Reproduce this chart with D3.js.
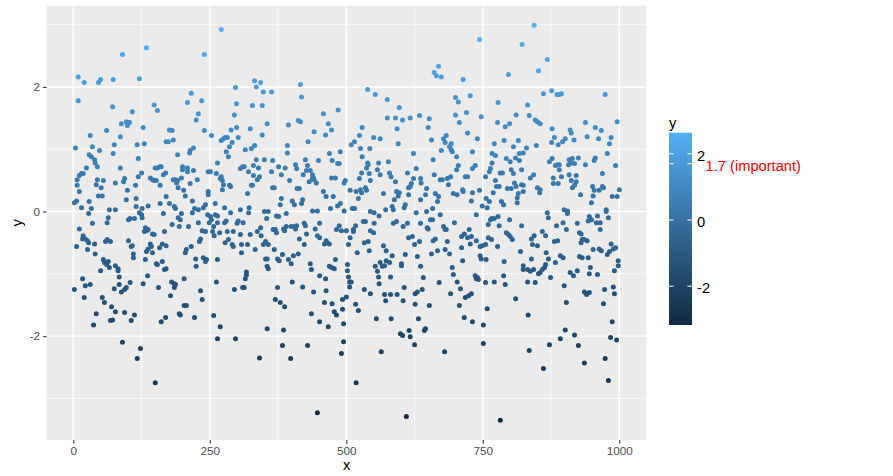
<!DOCTYPE html>
<html lang="en">
<head>
  <meta charset="UTF-8">
  <title>Scatter of y against x</title>
  <script src="https://d3js.org/d3.v7.min.js"></script>
  <style>
    body { margin: 0; background: #fff; }
    svg { display: block; font-family: "Liberation Sans", Arial, sans-serif; }
  </style>
</head>
<body>
  <svg width="893" height="476"></svg>
  <script>
    const strip1 = [[9,2.16],[20,2.07],[46,2.07],[50,2.12],[73,2.12],[9,1.78],[72,1.68],[61,1.30],[31,1.22],[4,1.02],[35,1.04],[48,0.98],[75,1.07],[73,0.93],[29,0.91],[33,0.88],[39,0.83],[40,0.78],[44,0.72],[24,0.70],[15,0.61],[18,0.61],[11,0.58],[7,0.51],[44,0.51],[55,0.50],[42,0.43],[51,0.38],[7,0.42],[11,0.32],[77,0.46],[46,0.25],[53,0.25],[29,0.16],[6,0.17],[2,0.14],[15,0.06],[33,0.05],[28,-0.03],[66,0.03],[77,0.03],[64,-0.10],[62,-0.18],[35,-0.19],[11,-0.28],[18,-0.39],[17,-0.44],[22,-0.44],[26,-0.47],[28,-0.50],[6,-0.56],[39,-0.52],[26,-0.61],[59,-0.48],[62,-0.45],[68,-0.48],[40,-0.68],[55,-0.77],[57,-0.82],[64,-0.80],[61,-0.85],[66,-0.90],[77,-0.87],[50,-0.95],[17,-1.08],[22,-1.19],[31,-1.17],[2,-1.25],[75,-1.24],[20,-1.38],[53,-1.38],[57,-1.46],[70,-1.53],[77,-1.61],[42,-1.64],[37,-1.82],[68,-1.75],[72,-1.74]];
    const strip2 = [[90,2.52],[134,2.63],[121,2.13],[148,1.71],[154,1.62],[108,1.60],[88,1.41],[97,1.44],[101,1.43],[99,1.38],[103,1.43],[128,1.35],[86,1.20],[117,1.07],[130,1.09],[170,1.12],[119,0.85],[86,0.70],[125,0.62],[119,0.56],[94,0.53],[92,0.48],[114,0.42],[99,0.34],[141,0.54],[145,0.51],[148,0.50],[152,0.50],[150,0.70],[154,0.70],[158,0.72],[161,0.72],[165,0.59],[169,0.62],[159,0.42],[97,0.19],[115,0.21],[115,0.08],[126,0.05],[137,0.09],[159,0.13],[170,0.24],[121,-0.02],[125,-0.05],[126,-0.10],[104,-0.11],[101,-0.13],[112,-0.11],[165,-0.03],[132,-0.26],[130,-0.32],[134,-0.31],[137,-0.29],[145,-0.36],[148,-0.37],[167,-0.32],[101,-0.47],[106,-0.56],[108,-0.55],[110,-0.68],[110,-0.74],[141,-0.52],[143,-0.56],[145,-0.66],[137,-0.60],[134,-0.64],[158,-0.58],[163,-0.52],[170,-0.55],[132,-0.77],[152,-0.84],[154,-0.85],[163,-0.80],[167,-0.93],[170,-0.92],[82,-0.92],[82,-0.95],[84,-1.05],[136,-1.03],[84,-1.17],[88,-1.29],[94,-1.25],[97,-1.22],[104,-1.14],[128,-1.16],[156,-1.22],[94,-1.62],[112,-1.66],[106,-1.75],[161,-1.77],[169,-1.70],[90,-2.10],[123,-2.20],[117,-2.36],[150,-2.75]];
    const strip3 = [[240,2.52],[216,1.90],[209,1.75],[235,1.78],[229,1.57],[225,1.47],[176,1.31],[181,1.30],[240,1.30],[253,1.22],[183,1.15],[174,1.12],[220,1.02],[214,0.98],[213,0.94],[191,0.91],[264,0.78],[200,0.72],[200,0.67],[209,0.70],[209,0.64],[220,0.66],[251,0.64],[247,0.64],[262,0.61],[183,0.51],[187,0.51],[189,0.46],[191,0.50],[198,0.54],[227,0.51],[214,0.45],[192,0.38],[202,0.34],[205,0.25],[247,0.32],[247,0.27],[218,0.17],[176,0.13],[185,0.08],[187,0.05],[198,-0.03],[192,-0.10],[196,-0.13],[181,-0.21],[194,-0.24],[211,-0.24],[242,0.11],[238,0.06],[229,0.03],[222,0.05],[218,-0.02],[260,0.13],[246,-0.05],[251,-0.08],[260,-0.05],[264,-0.07],[253,-0.13],[249,-0.18],[257,-0.24],[258,-0.39],[264,-0.18],[229,-0.18],[236,-0.31],[242,-0.32],[233,-0.44],[231,-0.48],[255,-0.32],[216,-0.56],[207,-0.61],[205,-0.66],[224,-0.76],[238,-0.74],[242,-0.80],[244,-0.77],[264,-0.77],[225,-0.88],[180,-1.13],[185,-1.16],[187,-1.17],[185,-1.22],[178,-1.35],[203,-1.08],[233,-1.27],[236,-1.41],[262,-1.13],[203,-1.51],[207,-1.51],[194,-1.64],[196,-1.66],[222,-1.70],[257,-1.67],[264,-2.04]];
    const strip4 = [[271,2.92],[332,2.10],[343,2.07],[335,2.00],[348,1.92],[297,1.99],[299,1.73],[328,1.70],[346,1.70],[295,1.55],[289,1.31],[299,1.35],[324,1.33],[302,1.19],[346,1.23],[355,1.41],[271,1.14],[275,1.17],[278,1.19],[282,1.19],[286,1.04],[291,1.11],[332,1.06],[326,1.01],[315,0.99],[280,0.96],[284,0.88],[335,0.83],[350,0.83],[339,0.70],[330,0.74],[321,0.64],[313,0.72],[310,0.72],[306,0.69],[330,0.58],[341,0.56],[337,0.51],[328,0.42],[326,0.42],[271,0.56],[269,0.53],[273,0.50],[275,0.43],[273,0.35],[286,0.42],[288,0.40],[319,0.29],[277,0.06],[288,-0.02],[306,0.03],[321,-0.02],[322,0.06],[350,0.00],[357,0.00],[354,-0.11],[277,-0.18],[280,-0.15],[302,-0.15],[300,-0.19],[311,-0.18],[268,-0.34],[282,-0.32],[293,-0.32],[306,-0.37],[324,-0.37],[343,-0.26],[337,-0.32],[344,-0.39],[278,-0.50],[284,-0.45],[291,-0.53],[293,-0.56],[308,-0.53],[319,-0.53],[333,-0.61],[308,-0.66],[348,-0.53],[352,-0.48],[357,-0.53],[352,-0.76],[355,-0.76],[355,-0.88],[357,-0.92],[317,-0.97],[317,-1.02],[315,-1.08],[310,-1.22],[313,-1.22],[295,-1.25],[269,-1.85],[297,-2.04],[355,-1.88],[341,-2.35]];
    const strip5 = [[416,2.04],[363,1.92],[418,1.84],[394,1.39],[412,1.46],[416,1.44],[441,1.28],[430,1.12],[392,1.06],[392,0.94],[365,0.82],[363,0.64],[376,0.72],[388,0.70],[381,0.59],[396,0.50],[407,0.75],[409,0.69],[425,0.83],[429,0.74],[427,0.66],[434,0.66],[421,0.59],[438,0.59],[440,0.54],[432,0.48],[438,0.53],[441,0.51],[445,0.46],[449,0.82],[365,0.38],[368,0.38],[410,0.37],[414,0.37],[381,0.21],[379,0.11],[401,0.17],[405,0.11],[418,0.13],[420,0.19],[438,0.01],[447,0.01],[372,-0.07],[376,-0.08],[390,-0.03],[366,-0.29],[370,-0.29],[372,-0.34],[385,-0.28],[387,-0.31],[390,-0.24],[399,-0.24],[405,-0.24],[409,-0.23],[407,-0.28],[423,-0.19],[425,-0.23],[427,-0.36],[443,-0.28],[447,-0.39],[451,-0.42],[451,-0.19],[414,-0.44],[423,-0.53],[368,-0.61],[383,-0.69],[374,-0.76],[377,-0.79],[394,-0.77],[399,-0.84],[403,-0.71],[412,-0.68],[434,-0.84],[436,-0.93],[451,-1.03],[374,-1.22],[401,-1.13],[420,-1.21],[440,-1.29],[370,-1.41],[379,-1.46],[387,-1.53],[436,-1.64],[451,-1.77],[385,-1.90],[383,-2.15],[429,-2.15],[398,-2.36],[447,-3.23]];
    const strip6 = [[539,1.96],[458,1.57],[485,1.63],[467,1.41],[473,1.31],[462,1.23],[529,1.35],[524,1.22],[509,1.07],[515,1.12],[526,1.01],[543,1.01],[469,0.93],[489,0.96],[474,0.82],[484,0.77],[487,0.77],[529,0.88],[539,0.78],[537,0.70],[540,0.75],[528,0.62],[542,0.61],[524,0.53],[498,0.50],[496,0.46],[473,0.54],[480,0.54],[458,0.32],[463,0.24],[476,0.24],[507,0.34],[518,0.32],[526,0.35],[528,0.30],[535,0.38],[537,0.34],[522,0.21],[544,0.50],[471,0.05],[484,0.09],[489,0.13],[496,0.01],[511,0.05],[515,0.05],[544,0.00],[487,-0.23],[482,-0.29],[491,-0.31],[500,-0.31],[513,-0.29],[513,-0.32],[517,-0.23],[531,-0.16],[535,-0.16],[460,-0.52],[463,-0.47],[465,-0.50],[469,-0.52],[507,-0.42],[504,-0.53],[533,-0.50],[540,-0.48],[544,-0.31],[542,-0.63],[520,-0.66],[480,-0.77],[469,-0.88],[473,-0.90],[478,-0.92],[502,-0.85],[502,-0.95],[504,-1.05],[506,-1.13],[509,-1.13],[506,-1.21],[462,-1.08],[463,-1.27],[500,-1.37],[493,-1.41],[517,-1.49],[522,-1.59],[533,-1.25],[544,-1.32],[460,-1.46],[474,-1.48],[478,-1.61],[482,-1.66],[493,-1.57],[467,-1.85],[495,-1.80],[495,-2.09],[491,-2.28],[518,-2.75]];
    const strip7 = [[553,1.88],[575,1.80],[597,1.67],[575,1.50],[590,1.50],[603,1.47],[617,1.50],[634,1.54],[593,1.33],[550,1.19],[562,1.17],[595,1.09],[623,0.93],[559,0.78],[577,0.80],[557,0.67],[562,0.59],[579,0.62],[582,0.56],[590,0.48],[612,0.62],[628,0.69],[623,0.53],[636,0.53],[619,0.45],[617,0.40],[614,0.38],[597,0.30],[592,0.32],[614,0.27],[595,0.25],[588,0.19],[637,0.46],[636,0.19],[568,0.29],[572,0.03],[584,0.08],[586,0.03],[608,0.11],[606,0.06],[628,-0.02],[551,-0.02],[560,-0.07],[551,-0.19],[586,-0.19],[592,-0.16],[612,-0.19],[604,-0.24],[636,-0.19],[550,-0.34],[614,-0.42],[621,-0.40],[625,-0.53],[634,-0.48],[568,-0.55],[573,-0.63],[584,-0.71],[608,-0.69],[630,-0.72],[562,-0.82],[566,-0.88],[570,-0.87],[573,-0.79],[579,-0.82],[601,-0.84],[601,-0.87],[636,-0.88],[553,-0.88],[557,-0.96],[559,-1.05],[560,-1.16],[581,-1.05],[606,-1.22],[626,-1.32],[630,-1.29],[570,-1.33],[581,-1.33],[593,-1.33],[572,-1.43],[604,-1.43],[626,-1.49],[555,-1.72],[582,-1.72],[632,-1.72],[599,-1.96],[603,-1.99],[615,-1.91],[617,-2.01],[625,-2.14],[564,-2.25],[610,-3.29]];
    const strip8 = [[669,2.33],[661,2.23],[665,2.18],[674,2.16],[714,2.12],[700,1.83],[705,1.76],[727,1.86],[720,1.59],[700,1.55],[707,1.43],[722,1.26],[650,1.35],[652,1.49],[656,1.15],[678,1.17],[683,1.22],[681,1.11],[689,1.04],[692,1.09],[692,0.99],[694,0.96],[674,0.98],[659,0.83],[702,0.88],[731,0.96],[705,0.74],[702,0.67],[661,0.59],[731,0.69],[722,0.56],[718,0.56],[691,0.56],[685,0.53],[672,0.51],[676,0.51],[687,0.43],[647,0.37],[645,0.27],[663,0.29],[669,0.24],[667,0.16],[696,0.29],[703,0.27],[713,0.35],[714,0.32],[731,0.30],[729,0.17],[658,0.05],[647,0.00],[672,-0.05],[654,-0.13],[658,-0.13],[698,-0.18],[648,-0.26],[650,-0.28],[678,-0.24],[681,-0.29],[683,-0.29],[725,-0.29],[716,-0.36],[711,-0.40],[722,-0.42],[729,-0.40],[727,-0.52],[663,-0.44],[659,-0.47],[685,-0.48],[711,-0.58],[713,-0.79],[681,-0.61],[667,-0.63],[656,-0.68],[689,-0.68],[694,-0.90],[696,-1.01],[703,-1.13],[709,-1.24],[691,-1.32],[718,-1.38],[724,-1.35],[729,-1.32],[641,-1.06],[639,-1.25],[670,-1.14],[652,-1.51],[707,-1.51],[716,-1.70],[731,-1.77],[645,-1.88],[643,-1.91],[680,-2.25]];
    const strip9 = [[744,2.76],[822,2.68],[797,2.20],[778,1.75],[747,1.52],[777,1.43],[791,1.36],[799,1.41],[811,1.55],[740,1.17],[771,1.09],[789,1.14],[815,1.14],[806,1.04],[767,0.93],[773,0.90],[767,0.78],[793,0.85],[800,0.80],[810,0.86],[817,0.93],[817,0.82],[824,0.94],[736,0.74],[764,0.69],[762,0.64],[755,0.56],[782,0.62],[786,0.62],[802,0.67],[806,0.61],[821,0.67],[773,0.50],[775,0.40],[780,0.40],[808,0.46],[821,0.43],[824,0.42],[769,0.30],[744,0.34],[795,0.37],[802,0.37],[811,0.40],[815,0.29],[813,0.22],[813,0.14],[824,0.32],[756,0.21],[762,0.16],[758,0.06],[749,0.09],[784,0.16],[788,0.11],[738,-0.05],[771,-0.11],[778,-0.08],[766,-0.11],[764,-0.13],[799,-0.13],[760,-0.21],[780,-0.23],[821,-0.23],[738,-0.47],[760,-0.42],[766,-0.45],[777,-0.56],[793,-0.34],[797,-0.37],[800,-0.40],[804,-0.45],[745,-0.56],[749,-0.55],[755,-0.53],[745,-0.71],[747,-0.76],[756,-0.77],[789,-0.80],[819,-0.64],[824,-0.87],[824,-0.93],[736,-1.03],[740,-1.06],[742,-1.09],[738,-1.08],[755,-1.14],[771,-1.13],[788,-1.03],[791,-1.17],[810,-1.40],[758,-1.56],[751,-1.82],[751,-2.12],[782,-3.35]];
    const strip10 = [[844,2.99],[868,2.44],[852,2.26],[861,1.89],[876,1.94],[886,1.88],[890,1.88],[894,1.89],[832,1.71],[835,1.54],[846,1.47],[850,1.44],[855,1.41],[877,1.33],[910,1.31],[912,1.26],[881,1.19],[901,1.17],[896,1.12],[888,1.07],[876,1.11],[830,1.02],[848,1.06],[872,0.80],[877,0.85],[883,0.74],[887,0.75],[890,0.75],[890,0.67],[907,0.75],[908,0.83],[914,0.85],[918,0.77],[912,0.78],[837,0.54],[843,0.59],[879,0.54],[879,0.45],[888,0.45],[894,0.56],[908,0.59],[912,0.50],[914,0.38],[918,0.42],[850,0.38],[855,0.35],[854,0.30],[868,-0.02],[870,-0.10],[899,0.03],[905,0.01],[905,-0.03],[885,-0.23],[903,-0.29],[897,-0.18],[839,-0.44],[844,-0.39],[859,-0.32],[865,-0.39],[841,-0.53],[850,-0.55],[881,-0.48],[887,-0.47],[866,-0.66],[839,-0.76],[870,-0.76],[865,-0.85],[863,-0.90],[859,-0.93],[855,-0.98],[852,-1.00],[874,-1.06],[892,-0.71],[897,-0.74],[832,-0.93],[837,-0.96],[843,-0.93],[883,-0.82],[910,-0.98],[916,-1.03],[832,-1.13],[846,-1.14],[899,-1.19],[903,-1.46],[833,-1.66],[901,-1.90],[892,-2.04],[918,-1.98],[872,-2.14],[835,-2.23],[861,-2.52]];
    const strip11 = [[974,1.88],[996,1.44],[938,1.43],[956,1.35],[967,1.30],[917,1.15],[941,1.20],[962,1.17],[985,1.19],[982,1.09],[925,0.86],[956,0.86],[954,0.82],[978,0.93],[993,0.74],[938,0.75],[969,0.61],[921,0.58],[921,0.48],[929,0.27],[951,0.40],[954,0.34],[952,0.25],[963,0.34],[969,0.40],[971,0.38],[1000,0.35],[987,0.24],[996,0.24],[949,0.14],[976,0.03],[976,0.00],[980,-0.10],[960,-0.07],[923,-0.19],[945,-0.08],[949,-0.13],[943,-0.15],[958,-0.18],[965,-0.18],[965,-0.29],[927,-0.34],[930,-0.36],[932,-0.45],[930,-0.50],[936,-0.45],[941,-0.47],[985,-0.52],[993,-0.58],[989,-0.60],[982,-0.64],[978,-0.69],[963,-0.60],[967,-0.63],[952,-0.61],[927,-0.72],[932,-0.74],[943,-0.74],[998,-0.79],[998,-0.87],[991,-0.95],[947,-0.90],[945,-1.00],[960,-1.01],[923,-0.95],[973,-1.25],[989,-1.21],[991,-1.32],[936,-1.29],[940,-1.33],[945,-1.30],[971,-1.48],[987,-1.77],[925,-2.15],[984,-2.02],[995,-2.06],[974,-2.36],[936,-2.43],[980,-2.71]];

    const xLimits = [1, 1000];
    const xBreaks = [0, 250, 500, 750, 1000];
    const yBreaks = [-2, 0, 2];
    const legendBreaks = [-2, 0, 1.7, 2];
    const legendLabels = ["-2", "0", "1.7 (important)", "2"];

    const data = [].concat(strip1, strip2, strip3, strip4, strip5, strip6,
      strip7, strip8, strip9, strip10, strip11)
      .map(d => ({ x: d[0], y: d[1] }))
      .sort((a, b) => a.x - b.x);

    const svg = d3.select("svg");
    const panel = { left: 46.6, right: 646.6, top: 5.5, bottom: 440 };

    // ggplot style 5% expansion
    const expand = ([a, b]) => [a - (b - a) * 0.05, b + (b - a) * 0.05];
    const yExtent = d3.extent(data, d => d.y);

    const x = d3.scaleLinear().domain(expand(xLimits)).range([panel.left, panel.right]);
    const y = d3.scaleLinear().domain(expand(yExtent)).range([panel.bottom, panel.top]);
    const colour = d3.scaleLinear().domain(yExtent)
      .range(["#132B43", "#56B1F7"]).interpolate(d3.interpolateLab);

    const mids = b => b.slice(1).map((v, i) => (v + b[i]) / 2);
    const yMinor = mids(yBreaks).concat([yBreaks[0] - 1, yBreaks[yBreaks.length - 1] + 1])
      .filter(v => v >= y.domain()[0] && v <= y.domain()[1]);

    svg.append("rect")
      .attr("x", panel.left).attr("y", panel.top)
      .attr("width", panel.right - panel.left).attr("height", panel.bottom - panel.top)
      .attr("fill", "#EBEBEB");

    const grid = svg.append("g").attr("stroke", "#fff");
    grid.selectAll(".xminor").data(mids(xBreaks)).join("line")
      .attr("x1", d => x(d)).attr("x2", d => x(d))
      .attr("y1", panel.top).attr("y2", panel.bottom).attr("stroke-width", 0.7);
    grid.selectAll(".yminor").data(yMinor).join("line")
      .attr("y1", d => y(d)).attr("y2", d => y(d))
      .attr("x1", panel.left).attr("x2", panel.right).attr("stroke-width", 0.7);
    grid.selectAll(".xmajor").data(xBreaks).join("line")
      .attr("x1", d => x(d)).attr("x2", d => x(d))
      .attr("y1", panel.top).attr("y2", panel.bottom).attr("stroke-width", 1.4);
    grid.selectAll(".ymajor").data(yBreaks).join("line")
      .attr("y1", d => y(d)).attr("y2", d => y(d))
      .attr("x1", panel.left).attr("x2", panel.right).attr("stroke-width", 1.4);

    svg.append("g").selectAll("circle").data(data).join("circle")
      .attr("cx", d => x(d.x))
      .attr("cy", d => y(d.y))
      .attr("r", 2.5)
      .attr("fill", d => colour(d.y));

    // axes
    const xAxis = svg.append("g")
      .attr("transform", `translate(0,${panel.bottom})`)
      .call(d3.axisBottom(x).tickValues(xBreaks).tickSize(3.7).tickPadding(3).tickFormat(d3.format("d")));
    const yAxis = svg.append("g")
      .attr("transform", `translate(${panel.left},0)`)
      .call(d3.axisLeft(y).tickValues(yBreaks).tickSize(3.7).tickPadding(3).tickFormat(d3.format("d")));
    [xAxis, yAxis].forEach(a => {
      a.select(".domain").remove();
      a.selectAll("line").attr("stroke", "#333").attr("stroke-width", 1.07);
      a.selectAll("text").attr("fill", "#4D4D4D")
        .attr("font-size", 11.7).attr("font-family", "Liberation Sans, Arial, sans-serif");
    });
    yAxis.selectAll("text").text(d => d < 0 ? "-" + Math.abs(d) : d);

    svg.append("text")
      .attr("x", (panel.left + panel.right) / 2).attr("y", 470)
      .attr("text-anchor", "middle").attr("font-size", 14.7)
      .text("x");
    svg.append("text")
      .attr("transform", `translate(22,${(panel.top + panel.bottom) / 2}) rotate(-90)`)
      .attr("text-anchor", "middle").attr("font-size", 14.7)
      .text("y");

    // colour bar legend
    const bar = { x: 669, w: 23, top: 132.7, bottom: 325 };
    const legendY = d3.scaleLinear().domain([-2, 2]).range([286.2, 153.8]);

    const grad = svg.append("defs").append("linearGradient")
      .attr("id", "bar").attr("x1", 0).attr("x2", 0).attr("y1", 0).attr("y2", 1);
    d3.range(0, 1.0001, 0.1).forEach(t => {
      const v = yExtent[1] - t * (yExtent[1] - yExtent[0]);
      grad.append("stop").attr("offset", t).attr("stop-color", colour(v));
    });

    svg.append("text")
      .attr("x", bar.x).attr("y", 127.5)
      .attr("font-size", 14.7).text("y");
    svg.append("rect")
      .attr("x", bar.x).attr("y", bar.top)
      .attr("width", bar.w).attr("height", bar.bottom - bar.top)
      .attr("fill", "url(#bar)");

    const ticks = svg.append("g").attr("stroke", "#fff").attr("stroke-width", 1);
    ticks.selectAll(".l").data(legendBreaks).join("line")
      .attr("x1", bar.x).attr("x2", bar.x + bar.w / 5)
      .attr("y1", d => legendY(d)).attr("y2", d => legendY(d));
    ticks.selectAll(".r").data(legendBreaks).join("line")
      .attr("x1", bar.x + bar.w * 4 / 5).attr("x2", bar.x + bar.w)
      .attr("y1", d => legendY(d)).attr("y2", d => legendY(d));

    svg.append("g").selectAll("text").data(legendBreaks).join("text")
      .attr("x", (d, i) => i === 2 ? bar.x + bar.w + 13.5 : bar.x + bar.w + 5)
      .attr("y", d => legendY(d) + 2)
      .attr("dominant-baseline", "central")
      .attr("font-size", 14.7)
      .attr("fill", (d, i) => i === 2 ? "red" : "#000")
      .text((d, i) => legendLabels[i]);
  </script>
</body>
</html>
